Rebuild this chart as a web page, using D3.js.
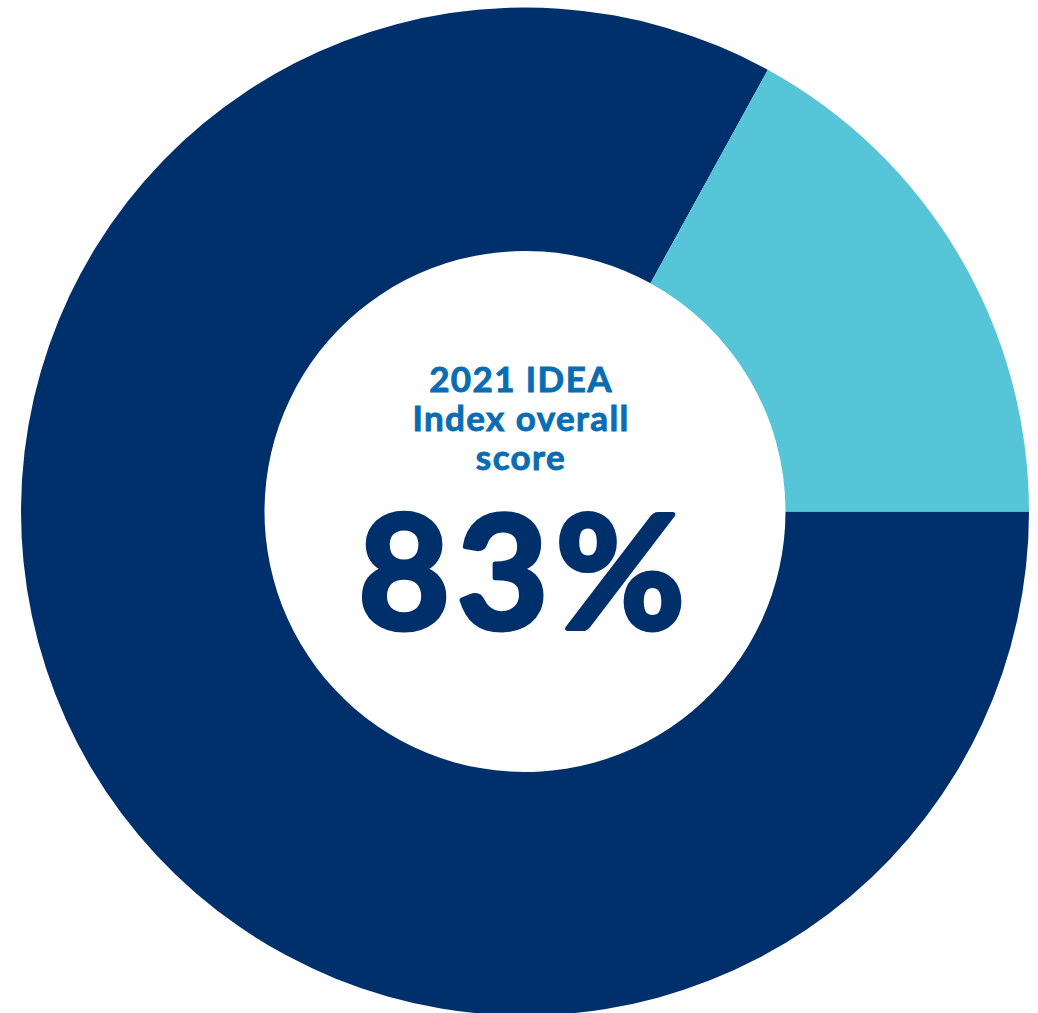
<!DOCTYPE html>
<html>
<head>
<meta charset="utf-8">
<script src="https://cdn.jsdelivr.net/npm/d3@7"></script>
<style>
html,body{margin:0;padding:0;background:#fff;}
svg{display:block;}
</style>
</head>
<body>
<svg id="chart" width="1038" height="1013"></svg>
<script>
const categories = ["Score", "Remaining"];
const values = [83, 17];
const colors = ["#00306B", "#56C5D7"];
const titleLines = ["2021 IDEA", "Index overall", "score"];
const valueLabel = "83%";

const svg = d3.select("#chart");
const cx = 525, cy = 511.5, outerR = 504, innerR = 260.5;
const g = svg.append("g").attr("transform", `translate(${cx},${cy})`);

const pie = d3.pie().sort(null).value(d => d.v)
  .startAngle(Math.PI / 2).endAngle(Math.PI / 2 + 2 * Math.PI);
const arc = d3.arc().innerRadius(innerR).outerRadius(outerR);
const data = categories.map((c, i) => ({ c, v: values[i], color: colors[i] }));

g.selectAll("path").data(pie(data)).join("path")
  .attr("d", arc)
  .attr("fill", d => d.data.color);

const t = g.append("g").attr("font-family", "Lato, 'Open Sans', sans-serif").attr("text-anchor", "middle");
const baselines = [392, 431, 470];
titleLines.forEach((s, i) => {
  t.append("text").attr("x", -4).attr("y", baselines[i] - cy)
    .attr("font-size", 35).attr("font-weight", 700).attr("letter-spacing", 1.4)
    .attr("fill", "#0A6DB3").attr("stroke", "#0A6DB3").attr("stroke-width", 0.9)
    .text(s);
});
t.append("text").attr("x", 0).attr("y", 629 - cy)
  .attr("font-size", 158).attr("font-weight", 700).attr("fill", "#00306B")
  .attr("stroke", "#00306B").attr("stroke-width", 5).attr("stroke-linejoin", "round")
  .attr("letter-spacing", 7).text(valueLabel);
</script>
</body>
</html>
